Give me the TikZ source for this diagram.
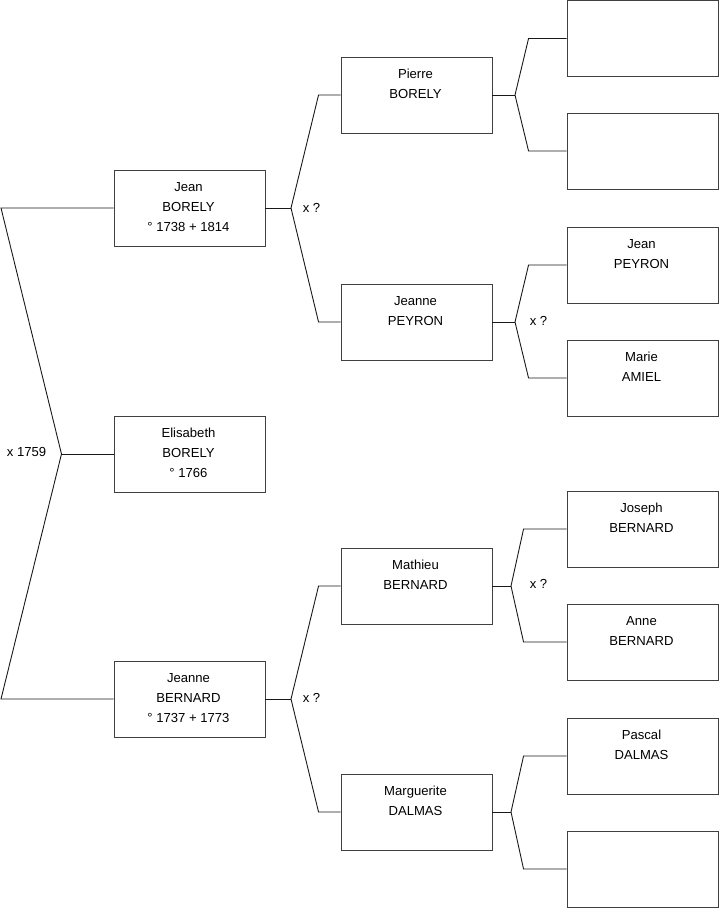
\documentclass[tikz,border=0pt]{standalone}
\usepackage{fontspec}
\setmainfont{Liberation Sans}
\begin{document}
\begin{tikzpicture}[x=1pt,y=-1pt,
  pbox/.style={draw=black!75, line width=0.9pt, minimum width=151pt, minimum height=76pt, inner sep=0pt},
  ptext/.style={anchor=north, align=center, inner sep=0pt, font=\fontsize{13.1pt}{20pt}\selectfont},
  lbl/.style={inner sep=0pt, font=\fontsize{13.1pt}{15pt}\selectfont},
  conn/.style={draw=black!90, line width=0.9pt}]
\useasboundingbox (0,0) rectangle (719,908);
\newcommand\person[3]{%
  \node[pbox] (#1) at (#2) {};
  \node[ptext] (#1t) at ([xshift=-1pt,yshift=-12.6pt]#1.north) {#3};}
% column 1
\person{jean}{189.5,208}{Jean\\BORELY\\° 1738 + 1814}
\person{elis}{189.5,454}{Elisabeth\\BORELY\\° 1766}
\person{jber}{189.5,699}{Jeanne\\BERNARD\\° 1737 + 1773}
% column 2
\person{pierre}{416.5,95}{Pierre\\BORELY}
\person{jpey}{416.5,322}{Jeanne\\PEYRON}
\person{math}{416.5,586}{Mathieu\\BERNARD}
\person{marg}{416.5,812}{Marguerite\\DALMAS}
% column 3
\node[pbox] (e1) at (642.5,38.5) {};
\node[pbox] (e2) at (642.5,151) {};
\person{jeanp}{642.5,265}{Jean\\PEYRON}
\person{marie}{642.5,378}{Marie\\AMIEL}
\person{joseph}{642.5,529}{Joseph\\BERNARD}
\person{anne}{642.5,642}{Anne\\BERNARD}
\person{pascal}{642.5,756}{Pascal\\DALMAS}
\node[pbox] (e3) at (642.5,869) {};
% level 1 fork
\coordinate (f0) at (61.5,454);
\coordinate (c1) at (1,208);
\coordinate (c2) at (1,699);
\draw[conn] (jean.west) -- (c1) -- (f0) -- (c2) -- (jber.west);
\draw[conn] (f0) -- (elis.west);
\node[lbl] (m0) at (26.5,452) {x 1759};
% level 2 forks
\coordinate (f1) at (291,208);
\draw[conn] (jean.east) -- (f1);
\draw[conn] (pierre.west) -- ([xshift=-22pt]pierre.west) -- (f1) -- ([xshift=-22pt]jpey.west) -- (jpey.west);
\node[lbl] (m1) at (311.5,207.5) {x ?};
\coordinate (f2) at (291,699);
\draw[conn] (jber.east) -- (f2);
\draw[conn] (math.west) -- ([xshift=-22pt]math.west) -- (f2) -- ([xshift=-22pt]marg.west) -- (marg.west);
\node[lbl] (m2) at (311.5,697.5) {x ?};
% level 3 forks
\coordinate (f3) at (515,95);
\draw[conn] (pierre.east) -- (f3);
\draw[conn] (e1.west) -- ([xshift=-38pt]e1.west) -- (f3) -- ([xshift=-38pt]e2.west) -- (e2.west);
\coordinate (f4) at (515,322);
\draw[conn] (jpey.east) -- (f4);
\draw[conn] (jeanp.west) -- ([xshift=-38pt]jeanp.west) -- (f4) -- ([xshift=-38pt]marie.west) -- (marie.west);
\node[lbl] (m3) at (538.5,320.5) {x ?};
\coordinate (f5) at (511,586);
\draw[conn] (math.east) -- (f5);
\draw[conn] (joseph.west) -- ([xshift=-43pt]joseph.west) -- (f5) -- ([xshift=-43pt]anne.west) -- (anne.west);
\node[lbl] (m4) at (538.5,583.5) {x ?};
\coordinate (f6) at (511,812);
\draw[conn] (marg.east) -- (f6);
\draw[conn] (pascal.west) -- ([xshift=-43pt]pascal.west) -- (f6) -- ([xshift=-43pt]e3.west) -- (e3.west);
\end{tikzpicture}
\end{document}
